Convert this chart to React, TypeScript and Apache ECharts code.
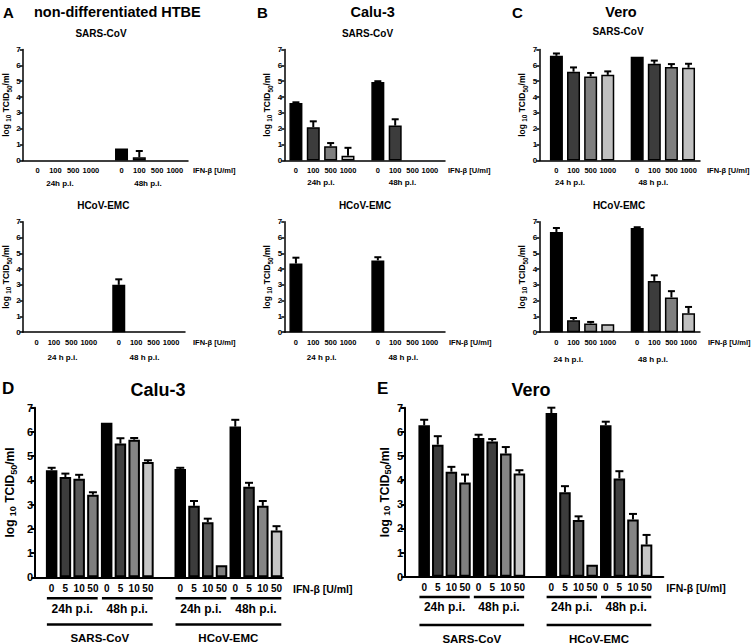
import React, { useEffect, useRef } from "react";
import * as echarts from "echarts";

const FONT = "'Liberation Sans', Arial, Helvetica, sans-serif";

// ---------- categories ----------
const doseTop = ["0", "100", "500", "1000", "0", "100", "500", "1000"];
const posTop = [0, 1, 2, 3, 4.72, 5.72, 6.72, 7.72];
const doseBottom = ["0", "5", "10", "50", "0", "5", "10", "50", "0", "5", "10", "50", "0", "5", "10", "50"];
const posBottom = [0, 1, 2, 3, 4, 5, 6, 7, 9.35, 10.35, 11.35, 12.35, 13.35, 14.35, 15.35, 16.35];
const yTicks = [0, 1, 2, 3, 4, 5, 6, 7];

// ---------- colours ----------
const colorsTop = ["#000000", "#3c3c3c", "#7f7f7f", "#c0c0c0", "#000000", "#3c3c3c", "#7f7f7f", "#c0c0c0"];
const colorsBottom = [
  "#000000", "#3c3c3c", "#595959", "#7f7f7f", "#000000", "#404040", "#858585", "#c6c6c6",
  "#000000", "#3c3c3c", "#595959", "#7f7f7f", "#000000", "#404040", "#858585", "#c6c6c6",
];

// ---------- values (log10 TCID50/ml) and upper SD ----------
const htbeSarsMean = [0, 0, 0, 0, 0.75, 0.2, 0, 0];
const htbeSarsSd = [0, 0, 0, 0, 0, 0.4, 0, 0];
const htbeEmcMean = [0, 0, 0, 0, 3.0, 0, 0, 0];
const htbeEmcSd = [0, 0, 0, 0, 0.35, 0, 0, 0];
const caluSarsMean = [3.62, 2.1, 0.9, 0.3, 4.95, 2.2, 0, 0];
const caluSarsSd = [0.05, 0.37, 0.2, 0.5, 0.05, 0.4, 0, 0];
const caluEmcMean = [4.35, 0, 0, 0, 4.55, 0, 0, 0];
const caluEmcSd = [0.37, 0, 0, 0, 0.2, 0, 0, 0];
const veroSarsMean = [6.6, 5.6, 5.3, 5.4, 6.55, 6.1, 5.9, 5.85];
const veroSarsSd = [0.15, 0.27, 0.22, 0.22, 0, 0.2, 0.18, 0.25];
const veroEmcMean = [6.35, 0.75, 0.55, 0.5, 6.6, 3.25, 2.2, 1.2];
const veroEmcSd = [0.25, 0.15, 0.1, 0, 0.05, 0.35, 0.4, 0.4];
const caluLowMean = [4.42, 4.14, 4.07, 3.41, 6.38, 5.52, 5.68, 4.76, 4.47, 2.95, 2.27, 0.5, 6.22, 3.74, 2.95, 1.93];
const caluLowSd = [0.1, 0.14, 0.16, 0.1, 0, 0.22, 0.07, 0.07, 0.05, 0.2, 0.15, 0, 0.28, 0.16, 0.2, 0.18];
const veroLowMean = [6.27, 5.47, 4.35, 3.9, 5.75, 5.6, 5.1, 4.27, 6.78, 3.5, 2.35, 0.5, 6.27, 4.07, 2.37, 1.33];
const veroLowSd = [0.23, 0.35, 0.2, 0.33, 0.13, 0.1, 0.27, 0.14, 0.22, 0.25, 0.15, 0, 0.15, 0.3, 0.23, 0.4];

type Panel = {
  grid: { left: number; top: number; width: number; height: number };
  xMin: number; xMax: number;
  pos: number[]; labels: string[]; mean: number[]; sd: number[]; colors: string[];
  small: boolean; yNameGap: number; ifnGap: number;
};

const TOP_Y = 49.5, TOP_H = 111, BOT_Y = 221.7, BOT_H = 110.5;

const panels: Panel[] = [
  { grid: { left: 22.7, top: TOP_Y, width: 165.3, height: TOP_H }, xMin: -0.84, xMax: 8.46, pos: posTop, labels: doseTop, mean: htbeSarsMean, sd: htbeSarsSd, colors: colorsTop, small: true, yNameGap: 10, ifnGap: 5 },
  { grid: { left: 22.7, top: BOT_Y, width: 162.3, height: BOT_H }, xMin: -0.79, xMax: 8.52, pos: posTop, labels: doseTop, mean: htbeEmcMean, sd: htbeEmcSd, colors: colorsTop, small: true, yNameGap: 10, ifnGap: 8 },
  { grid: { left: 284.3, top: TOP_Y, width: 160.7, height: TOP_H }, xMin: -0.67, xMax: 8.59, pos: posTop, labels: doseTop, mean: caluSarsMean, sd: caluSarsSd, colors: colorsTop, small: true, yNameGap: 13, ifnGap: 3 },
  { grid: { left: 284.3, top: BOT_Y, width: 160.7, height: BOT_H }, xMin: -0.67, xMax: 8.59, pos: posTop, labels: doseTop, mean: caluEmcMean, sd: caluEmcSd, colors: colorsTop, small: true, yNameGap: 13, ifnGap: 4 },
  { grid: { left: 539.3, top: TOP_Y, width: 160.7, height: TOP_H }, xMin: -1.0, xMax: 8.39, pos: posTop, labels: doseTop, mean: veroSarsMean, sd: veroSarsSd, colors: colorsTop, small: true, yNameGap: 12, ifnGap: 7 },
  { grid: { left: 539.3, top: BOT_Y, width: 160.7, height: BOT_H }, xMin: -1.0, xMax: 8.39, pos: posTop, labels: doseTop, mean: veroEmcMean, sd: veroEmcSd, colors: colorsTop, small: true, yNameGap: 12, ifnGap: 8 },
  { grid: { left: 35, top: 407.7, width: 248, height: 169.6 }, xMin: -1.21, xMax: 16.82, pos: posBottom, labels: doseBottom, mean: caluLowMean, sd: caluLowSd, colors: colorsBottom, small: false, yNameGap: 19, ifnGap: 10 },
  { grid: { left: 405, top: 407.7, width: 258.3, height: 169 }, xMin: -1.41, xMax: 17.58, pos: posBottom, labels: doseBottom, mean: veroLowMean, sd: veroLowSd, colors: colorsBottom, small: false, yNameGap: 14, ifnGap: 3 },
];

const headings = [
  { text: "A", x: 3, y: 12, size: 15, align: "left" },
  { text: "non-differentiated HTBE", x: 34, y: 12, size: 14.5, align: "left" },
  { text: "B", x: 257, y: 12, size: 15, align: "left" },
  { text: "Calu-3", x: 372.7, y: 12, size: 14.5, align: "center" },
  { text: "C", x: 512, y: 12, size: 15, align: "left" },
  { text: "Vero", x: 621, y: 12, size: 14.5, align: "center" },
  { text: "SARS-CoV", x: 101, y: 33, size: 10, align: "center" },
  { text: "SARS-CoV", x: 367.5, y: 33, size: 10, align: "center" },
  { text: "SARS-CoV", x: 618, y: 31, size: 10, align: "center" },
  { text: "HCoV-EMC", x: 103.3, y: 205, size: 10, align: "center" },
  { text: "HCoV-EMC", x: 365, y: 205, size: 10, align: "center" },
  { text: "HCoV-EMC", x: 619, y: 205, size: 10, align: "center" },
  { text: "D", x: 2, y: 388, size: 17, align: "left" },
  { text: "Calu-3", x: 158, y: 390, size: 18, align: "center" },
  { text: "E", x: 377, y: 388, size: 17, align: "left" },
  { text: "Vero", x: 531, y: 390, size: 18, align: "center" },
  { text: "24h p.i.", x: 60, y: 183, size: 8, align: "center" },
  { text: "48h p.i.", x: 148, y: 183, size: 8, align: "center" },
  { text: "24 h p.i.", x: 62.5, y: 357, size: 8, align: "center" },
  { text: "48 h p.i.", x: 144.5, y: 357, size: 8, align: "center" },
  { text: "24h p.i.", x: 321, y: 182, size: 8, align: "center" },
  { text: "48h p.i.", x: 402.5, y: 182, size: 8, align: "center" },
  { text: "24 h p.i.", x: 321.7, y: 357, size: 8, align: "center" },
  { text: "48 h p.i.", x: 403.3, y: 357, size: 8, align: "center" },
  { text: "24 h p.i.", x: 570, y: 182.5, size: 8, align: "center" },
  { text: "48 h p.i.", x: 653.3, y: 182.5, size: 8, align: "center" },
  { text: "24 h p.i.", x: 568.3, y: 359, size: 8, align: "center" },
  { text: "48 h p.i.", x: 653, y: 359, size: 8, align: "center" },
];

const bottomGroups = ["24h p.i.", "48h p.i.", "24h p.i.", "48h p.i."];
const virusGroups = ["SARS-CoV", "HCoV-EMC"];

function textEl(t: string, x: number, y: number, size: number, align: string) {
  return {
    type: "text",
    silent: true,
    style: {
      text: t, x, y,
      font: `bold ${size}px ${FONT}`,
      fill: "#000",
      align, verticalAlign: "middle",
      textAlign: align, textVerticalAlign: "middle",
    },
  };
}

function lineEl(x1: number, x2: number, y: number, w: number) {
  return {
    type: "line",
    silent: true,
    shape: { x1, y1: y, x2, y2: y },
    style: { stroke: "#000", lineWidth: w },
  };
}

export default function App() {
  const ref = useRef<HTMLDivElement>(null);
  useEffect(() => {
    document.body.style.margin = "0";
    const chart = echarts.init(ref.current!, null, { renderer: "svg" });
    const grids: any[] = [];
    const xAxes: any[] = [];
    const yAxes: any[] = [];
    const series: any[] = [];

    panels.forEach((p, i) => {
      const fs = p.small ? 7.5 : 10;
      const yfs = p.small ? 8 : 11;
      const nameFs = p.small ? 8.5 : 12;
      const lw = p.small ? 1.5 : 2;
      const bw = p.small ? 13 : 11.5;
      const border = p.small ? 1.5 : 2;
      grids.push({ ...p.grid, containLabel: false });
      xAxes.push({
        type: "value",
        gridIndex: i,
        min: p.xMin,
        max: p.xMax,
        splitLine: { show: false },
        axisTick: { show: false },
        axisLine: { show: true, onZero: false, lineStyle: { color: "#000", width: lw } },
        axisLabel: {
          customValues: p.pos,
          formatter: (v: number) => {
            const k = p.pos.findIndex((q) => Math.abs(q - v) < 1e-6);
            return k >= 0 ? p.labels[k] : "";
          },
          margin: 6,
          fontSize: fs,
          fontWeight: "bold",
          fontFamily: FONT,
          color: "#000",
        },
        name: "IFN-β [U/ml]",
        nameLocation: "end",
        nameGap: p.ifnGap,
        nameTextStyle: {
          fontSize: p.small ? 7.5 : 10.5,
          fontWeight: "bold",
          fontFamily: FONT,
          color: "#000",
          align: "left",
          verticalAlign: "top",
          padding: [6, 0, 0, 0],
        },
      });
      yAxes.push({
        type: "value",
        gridIndex: i,
        min: yTicks[0],
        max: yTicks[yTicks.length - 1],
        interval: 1,
        splitLine: { show: false },
        axisLine: { show: true, onZero: false, lineStyle: { color: "#000", width: lw } },
        axisTick: { show: true, length: p.small ? 3 : 4, lineStyle: { color: "#000", width: lw } },
        axisLabel: { margin: 2, fontSize: yfs, fontWeight: "bold", fontFamily: FONT, color: "#000" },
        name: "{n|log }{s|10}{n| TCID}{b|50}{n|/ml}",
        nameLocation: "middle",
        nameRotate: 90,
        nameGap: p.yNameGap,
        nameTextStyle: {
          rich: {
            n: { fontSize: nameFs, fontWeight: "bold", fontFamily: FONT, color: "#000" },
            s: { fontSize: nameFs * 0.75, fontWeight: "bold", fontFamily: FONT, color: "#000", verticalAlign: "bottom", padding: [0, 0, -1, 0] },
            b: { fontSize: nameFs * 0.75, fontWeight: "bold", fontFamily: FONT, color: "#000", verticalAlign: "bottom", padding: [0, 0, -2, 0] },
          },
        },
      });
      const barData = p.mean
        .map((m, k) => ({ value: [p.pos[k], m], itemStyle: { color: p.colors[k], borderColor: "#000", borderWidth: border } }))
        .filter((d) => d.value[1] > 0);
      series.push({
        type: "bar",
        xAxisIndex: i,
        yAxisIndex: i,
        barWidth: bw,
        data: barData,
        silent: true,
      });
      // error bars: [x, mean, mean + sd]
      const errData = p.mean
        .map((m, k) => [p.pos[k], m, m + p.sd[k]])
        .filter((d) => d[2] > d[1]);
      series.push({
        type: "custom",
        xAxisIndex: i,
        yAxisIndex: i,
        z: 3,
        silent: true,
        dimensions: ["x", "mean", "upper"],
        encode: { x: 0, y: [1, 2] },
        data: errData,
        renderItem: (params: any, api: any) => {
          const x = api.value(0);
          const base = api.coord([x, api.value(1)]);
          const top = api.coord([x, api.value(2)]);
          const cap = p.small ? 3.5 : 4;
          const style = { stroke: "#000", lineWidth: 2 };
          return {
            type: "group",
            children: [
              { type: "line", shape: { x1: base[0], y1: base[1], x2: base[0], y2: top[1] }, style },
              { type: "line", shape: { x1: base[0] - cap, y1: top[1], x2: base[0] + cap, y2: top[1] }, style },
            ],
          };
        },
      });
    });

    chart.setOption({
      animation: false,
      backgroundColor: "#fff",
      textStyle: { fontFamily: FONT },
      grid: grids,
      xAxis: xAxes,
      yAxis: yAxes,
      series,
    });

    // Brackets under panels D and E, positioned through the axes
    const gr: any[] = headings.map((h) => textEl(h.text, h.x, h.y, h.size, h.align));
    [6, 7].forEach((pi) => {
      const p = panels[pi];
      const half = 11.5 / 2;
      const px = (v: number) => chart.convertToPixel({ xAxisIndex: pi }, v) as number;
      const yLine1 = pi === 6 ? 598.3 : 597;
      const yText1 = pi === 6 ? 608.5 : 607;
      const yLine2 = pi === 6 ? 624.5 : 625;
      const yText2 = pi === 6 ? 638 : 638.5;
      for (let g = 0; g < 4; g++) {
        const a = px(p.pos[g * 4]) - half + 1;
        const b = px(p.pos[g * 4 + 3]) + half - 1;
        gr.push(lineEl(a, b, yLine1, 2.5));
        gr.push(textEl(bottomGroups[g], (a + b) / 2, yText1, 12, "center"));
      }
      for (let v = 0; v < 2; v++) {
        const a = px(p.pos[v * 8]) - half + 1;
        const b = px(p.pos[v * 8 + 7]) + half - 1;
        gr.push(lineEl(a, b, yLine2, 2.5));
        gr.push(textEl(virusGroups[v], (a + b) / 2, yText2, 11.5, "center"));
      }
    });
    chart.setOption({ graphic: { elements: gr } });

    return () => chart.dispose();
  }, []);
  return (
    <div
      ref={ref}
      style={{ position: "absolute", left: 0, top: 0, width: 754, height: 644, background: "#fff" }}
    />
  );
}
